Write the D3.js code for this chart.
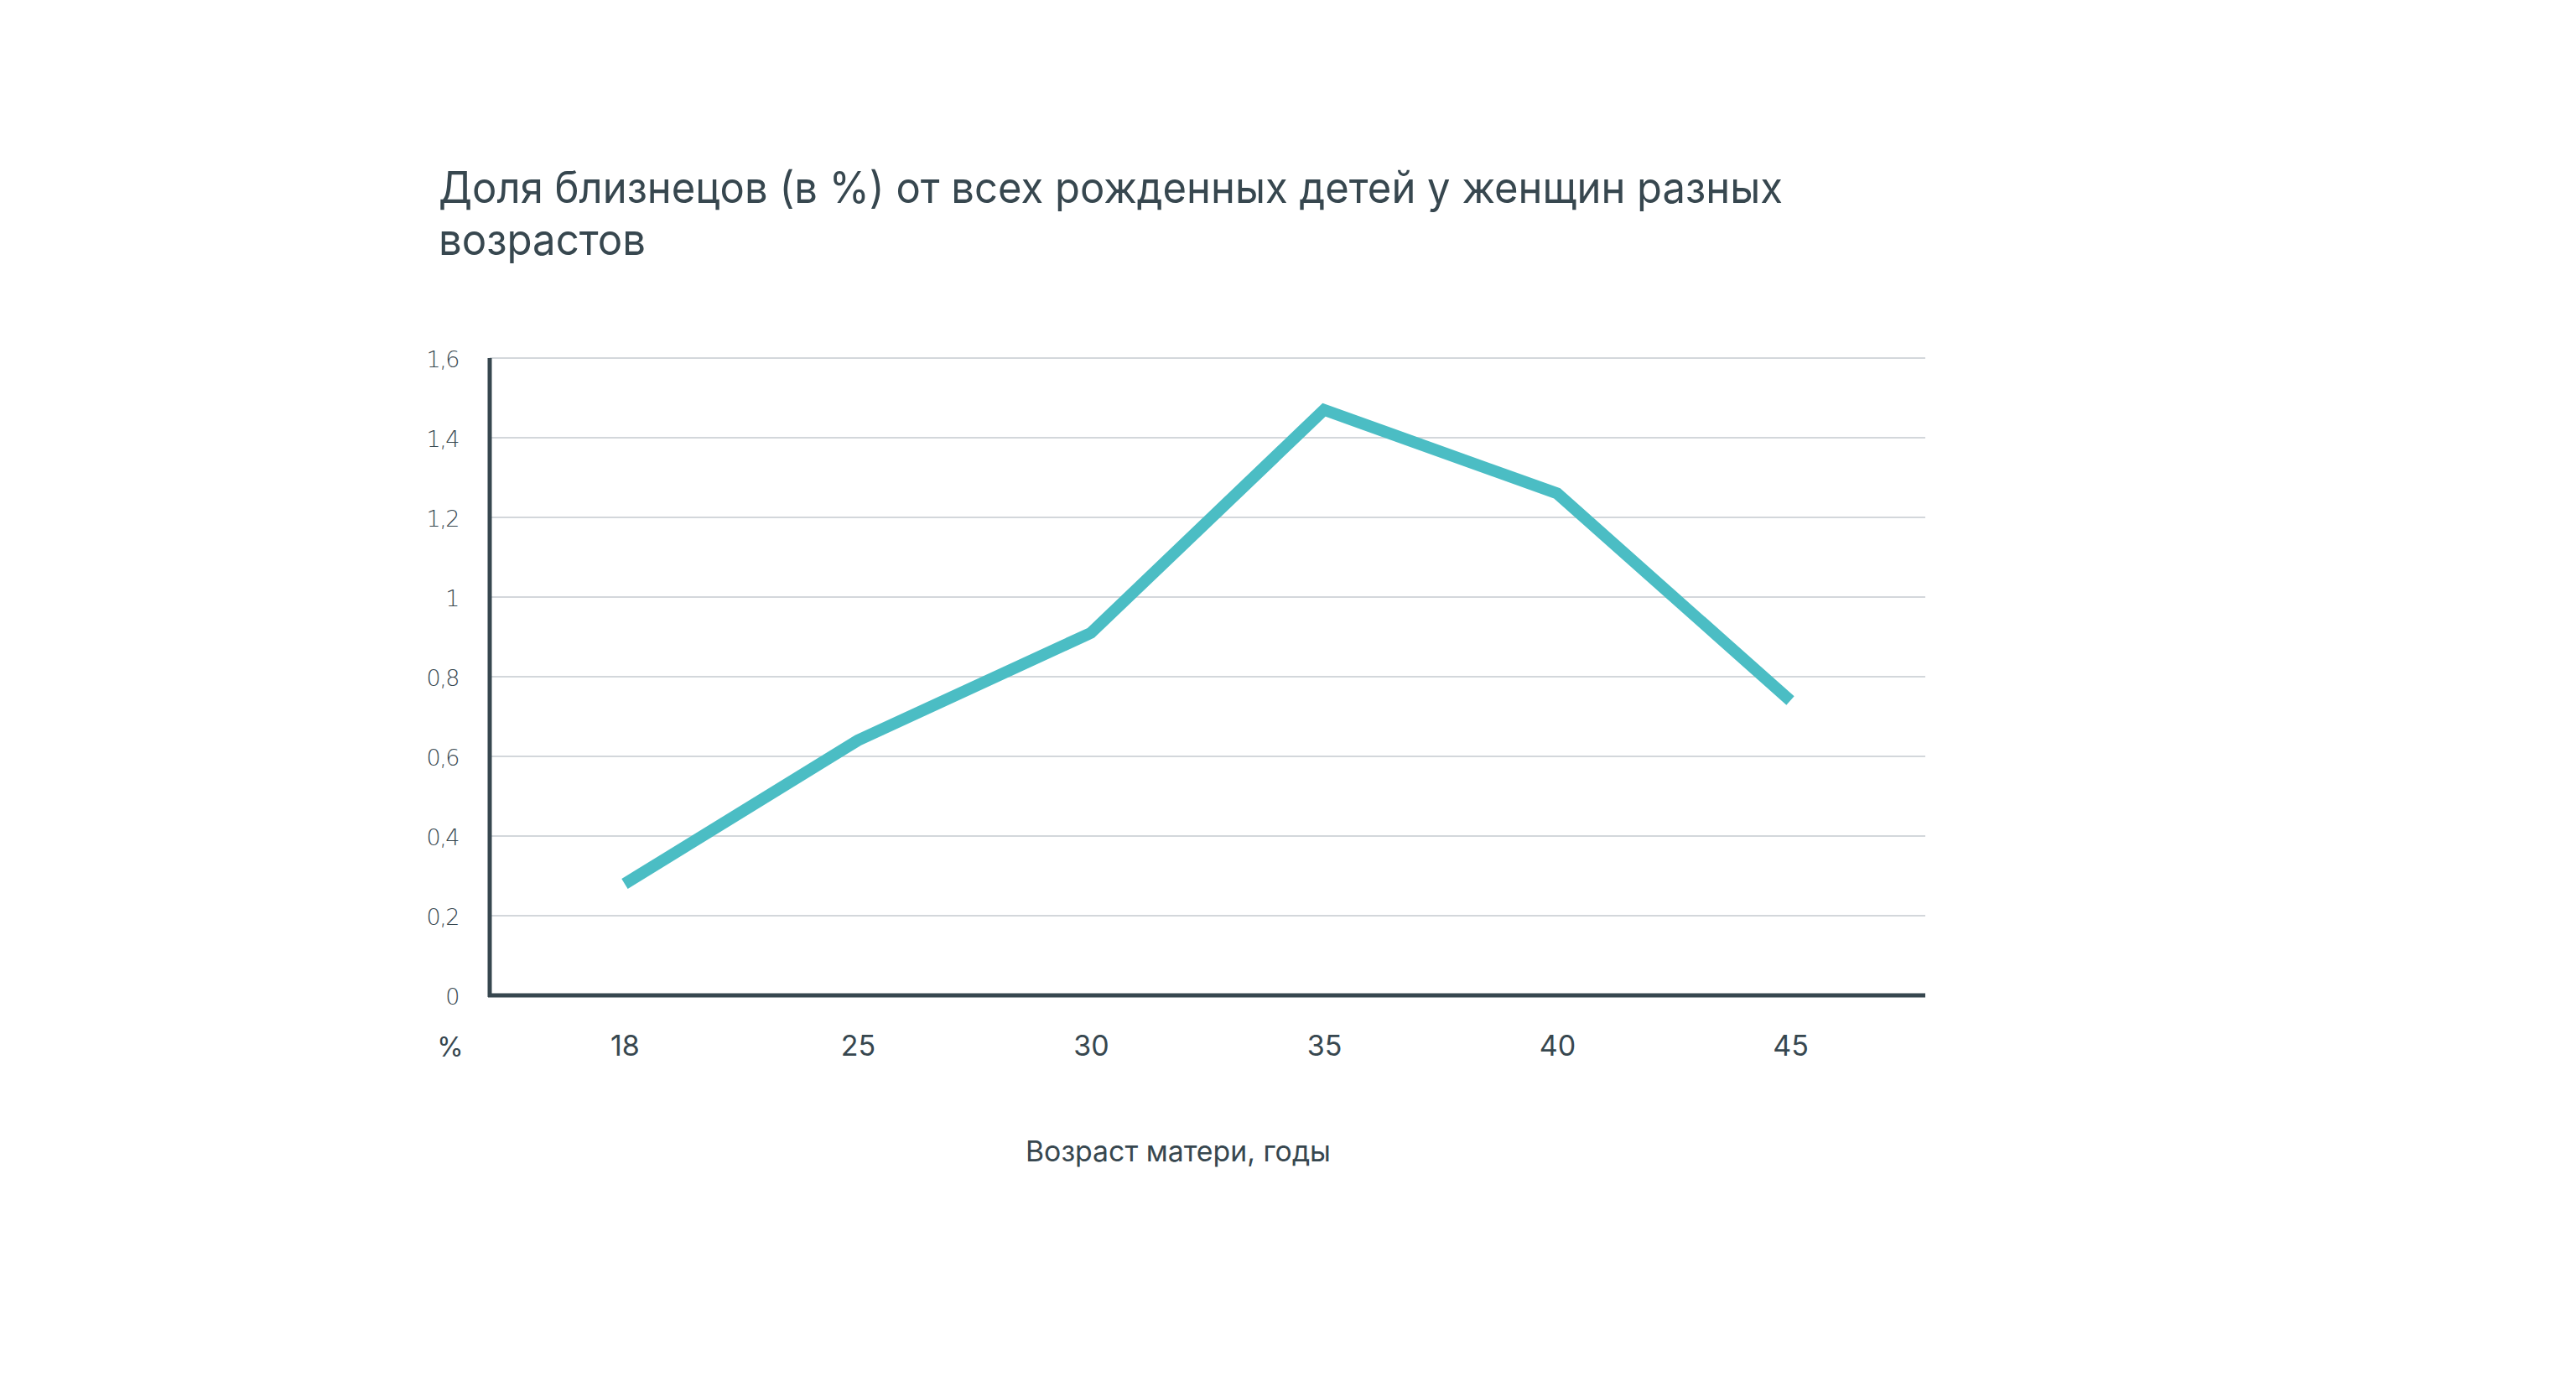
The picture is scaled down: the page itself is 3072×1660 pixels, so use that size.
<!DOCTYPE html>
<html>
<head>
<meta charset="utf-8">
<script src="https://cdn.jsdelivr.net/npm/d3@7"></script>
<style>
  html, body { margin: 0; padding: 0; background: #ffffff; }
  svg { display: block; }
</style>
</head>
<body>
<script>
const titleLines = ["Доля близнецов (в %) от всех рожденных детей у женщин разных", "возрастов"];
const xTitle = "Возраст матери, годы";
const yUnit = "%";
const ages = ["18", "25", "30", "35", "40", "45"];
const twinShare = [0.28, 0.64, 0.91, 1.47, 1.26, 0.74];
const yTicks = [0, 0.2, 0.4, 0.6, 0.8, 1, 1.2, 1.4, 1.6];

(function () {
const W = 3072, H = 1660;
const textColor = "#37474f";
const lineColor = "#4bbdc4";
const gridColor = "#d3d7db";

const svg = d3.select("body").append("svg").attr("width", W).attr("height", H);

const pLeft = 584, pRight = 2296, pTop = 427, pBottom = 1187;

const x = d3.scalePoint().domain(ages).range([pLeft, pRight]).padding(0.579);
const y = d3.scaleLinear().domain([0, 1.6]).range([pBottom, pTop]);
const fmt = d => String(d).replace(".", ",");

// title
const tl = [1603, 247];
svg.append("g").selectAll("text").data(titleLines).join("text")
  .attr("x", 523).attr("y", (d, i) => 242 + i * 62)
  .attr("font-family", "Inter, 'Noto Sans', sans-serif")
  .attr("font-size", 52).attr("fill", textColor)
  .attr("textLength", (d, i) => tl[i]).attr("lengthAdjust", "spacingAndGlyphs")
  .text(d => d);

// gridlines
svg.append("g").selectAll("line").data(yTicks.filter(d => d > 0)).join("line")
  .attr("x1", pLeft).attr("x2", pRight)
  .attr("y1", d => y(d)).attr("y2", d => y(d))
  .attr("stroke", gridColor).attr("stroke-width", 2);

// y axis
const yAxis = svg.append("g").attr("transform", `translate(${pLeft},0)`)
  .call(d3.axisLeft(y).tickValues(yTicks).tickFormat(fmt).tickSize(0).tickPadding(37));
yAxis.select(".domain").remove();
yAxis.selectAll("text")
  .attr("font-family", "'DejaVu Sans', sans-serif").attr("font-size", 27)
  .attr("font-weight", 200)
  .attr("fill", textColor).attr("dy", "0.4em").attr("letter-spacing", "-1.5");

// x axis
const xAxis = svg.append("g").attr("transform", `translate(0,${pBottom})`)
  .call(d3.axisBottom(x).tickSize(0).tickPadding(48));
xAxis.select(".domain").remove();
xAxis.selectAll("text")
  .attr("font-family", "Inter, 'Noto Sans', sans-serif").attr("font-size", 34)
  .attr("fill", textColor).attr("dy", "0.72em");

// axis lines
svg.append("line").attr("x1", pLeft).attr("x2", pLeft).attr("y1", pTop).attr("y2", pBottom + 2)
  .attr("stroke", textColor).attr("stroke-width", 5);
svg.append("line").attr("x1", pLeft - 2).attr("x2", pRight).attr("y1", pBottom).attr("y2", pBottom)
  .attr("stroke", textColor).attr("stroke-width", 5);

// unit
svg.append("text").attr("x", 537).attr("y", 1260).attr("text-anchor", "middle")
  .attr("font-family", "Inter, 'Noto Sans', sans-serif").attr("font-size", 32)
  .attr("fill", textColor).text(yUnit);

// x title
svg.append("text").attr("x", 1405).attr("y", 1385).attr("text-anchor", "middle")
  .attr("font-family", "Inter, 'Noto Sans', sans-serif").attr("font-size", 34)
  .attr("fill", textColor).attr("textLength", 364).attr("lengthAdjust", "spacingAndGlyphs")
  .text(xTitle);

// line
const line = d3.line().x((d, i) => x(ages[i])).y(d => y(d));
svg.append("path").datum(twinShare).attr("d", line)
  .attr("fill", "none").attr("stroke", lineColor).attr("stroke-width", 14)
  .attr("stroke-linejoin", "miter").attr("stroke-linecap", "butt");
})();
</script>
</body>
</html>
